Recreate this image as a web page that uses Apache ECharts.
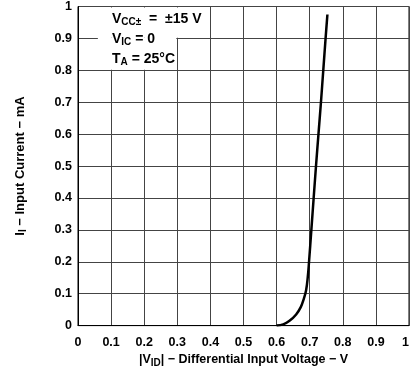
<!DOCTYPE html>
<html><head><meta charset="utf-8">
<script src="https://cdn.jsdelivr.net/npm/echarts@6/dist/echarts.min.js"></script>
<style>html,body{margin:0;padding:0;background:#fff}#c{width:412px;height:373px}</style>
</head><body><div id="c"></div>
<script>
var vid = [0.6, 0.62, 0.639, 0.659, 0.673, 0.682, 0.689, 0.694, 0.698, 0.705, 0.712, 0.719, 0.7265, 0.734, 0.741, 0.748, 0.7535];
var ii  = [0, 0.004, 0.015, 0.035, 0.058, 0.083, 0.11, 0.15, 0.2, 0.3, 0.4, 0.5, 0.6, 0.7, 0.8, 0.9, 0.975];
var xTicks = ['0','0.1','0.2','0.3','0.4','0.5','0.6','0.7','0.8','0.9','1'];
var yTicks = ['0','0.1','0.2','0.3','0.4','0.5','0.6','0.7','0.8','0.9','1'];
var boxA = [[0.06, 0.902], [0.38, 0.997]];
var boxB = [[0.06, 0.802], [0.297, 0.902]];

var F = 'Liberation Sans, Arial, sans-serif';
var chart = echarts.init(document.getElementById('c'));
var pts = vid.map(function(v,i){return [v, ii[i]];});
function rich(sz, sub){
  return {
    b:{fontFamily:F,fontWeight:'bold',fontSize:sz,color:'#000'},
    s:{fontFamily:F,fontWeight:'bold',fontSize:sub,color:'#000',padding:[6,0,0,0]}
  };
}
chart.setOption({
  animation:false,
  grid:{left:78,right:1,top:3,bottom:40,show:true,borderColor:'#000',borderWidth:1,containLabel:false},
  title:{
    left:107, top:4,
    text:'{b|V}{s|CC±}{b|  =  ±15 V}\n{b|V}{s|IC}{b| = 0}\n{b|T}{s|A}{b| = 25°C}',
    textStyle:{
      fontFamily:F, fontWeight:'bold', fontSize:14, lineHeight:20, color:'#000',
      rich:{
        b:{fontFamily:F,fontWeight:'bold',fontSize:14,color:'#000',lineHeight:20},
        s:{fontFamily:F,fontWeight:'bold',fontSize:10,color:'#000',lineHeight:20,padding:[7,0,0,0]}
      }
    }
  },
  xAxis:{
    type:'value', min:0, max:1, interval:0.1,
    axisLine:{show:true,lineStyle:{color:'#000',width:1}},
    axisTick:{show:false},
    splitLine:{show:true,lineStyle:{color:'#444',width:1}},
    axisLabel:{fontFamily:F,fontWeight:'bold',fontSize:12.5,color:'#000',margin:10,alignMaxLabel:'right',
      formatter:function(v){return xTicks[Math.round(v*10)];}},
    name:'{b||V}{s|ID}{b|| − Differential Input Voltage − V}',
    nameLocation:'middle', nameGap:25,
    nameTextStyle:{fontFamily:F,fontWeight:'bold',fontSize:12.5,color:'#000',rich:rich(12.5,10)}
  },
  yAxis:{
    type:'value', min:0, max:1, interval:0.1,
    axisLine:{show:true,lineStyle:{color:'#000',width:1}},
    axisTick:{show:false},
    splitLine:{show:true,lineStyle:{color:'#444',width:1}},
    axisLabel:{fontFamily:F,fontWeight:'bold',fontSize:12.5,color:'#000',margin:6,
      formatter:function(v){return yTicks[Math.round(v*10)];}},
    name:'{b|I}{s|I}{b| − Input Current − mA}',
    nameLocation:'middle', nameGap:50,
    nameTextStyle:{fontFamily:F,fontWeight:'bold',fontSize:13,color:'#000',rich:rich(13,10)}
  },
  series:[{
    type:'line', data:pts, smooth:0.4, symbol:'none',
    lineStyle:{color:'#000',width:2.5},
    markArea:{silent:true,itemStyle:{color:'#fff',opacity:1},
      data:[
        [{coord:boxA[0]},{coord:boxA[1]}],
        [{coord:boxB[0]},{coord:boxB[1]}]
      ]}
  }]
});
</script></body></html>
